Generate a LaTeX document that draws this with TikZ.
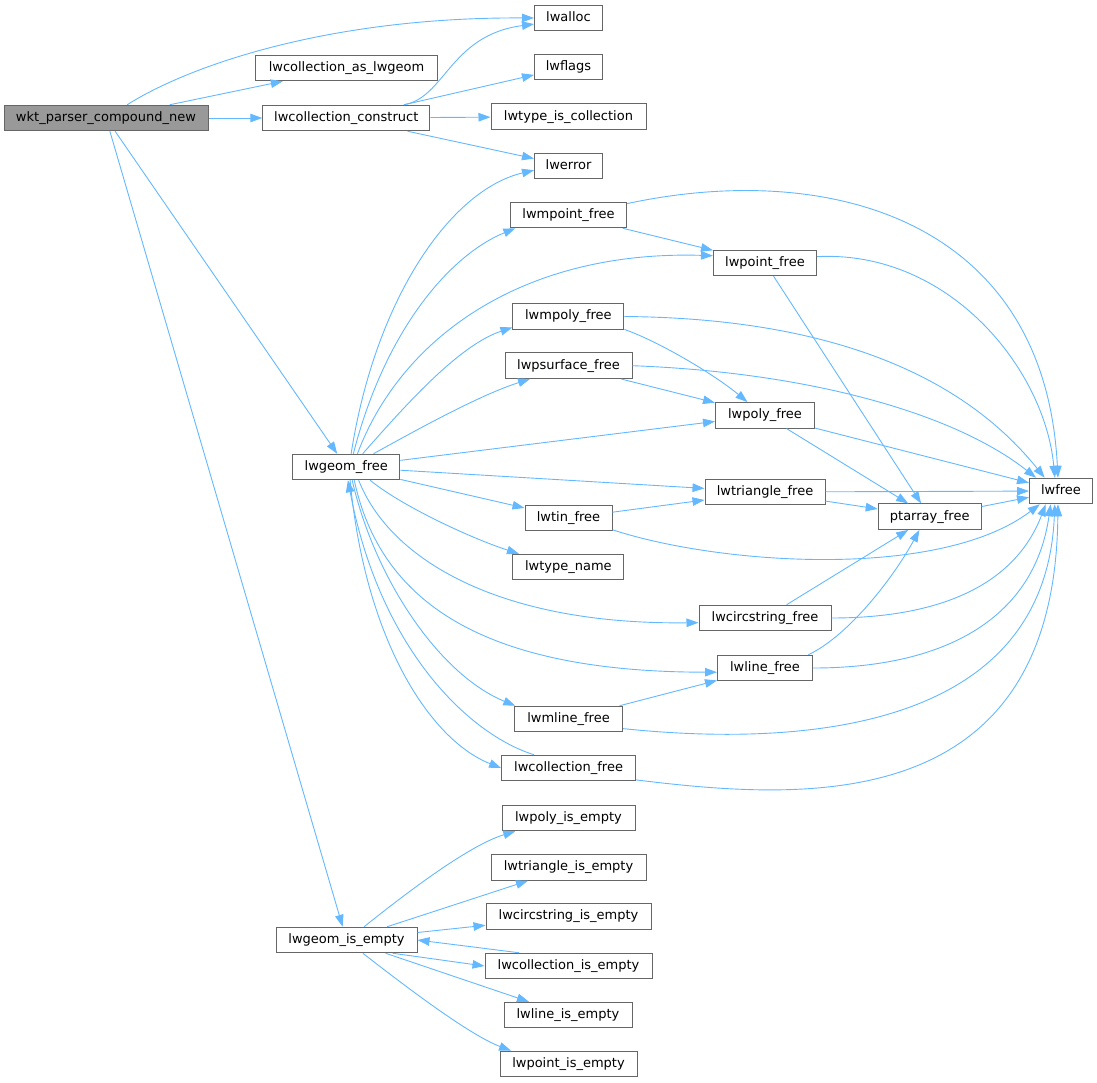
\documentclass[tikz,border=0pt]{standalone}
\usepackage{fontspec}
\setmainfont{DejaVu Sans}
\usetikzlibrary{arrows.meta}
\definecolor{edgeblue}{HTML}{63B8FF}
\definecolor{boxgray}{HTML}{666666}
\definecolor{rootgray}{HTML}{999999}
\tikzset{
  fn box/.style={draw=boxgray, line width=1pt, fill=white, minimum height=25.5pt, inner sep=0pt,
    text height=9.7pt, text depth=2.8pt, font=\fontsize{13}{15}\selectfont},
  root box/.style={fn box, fill=rootgray},
  call edge/.style={draw=edgeblue, line width=0.9pt, -{Triangle[length=12pt, width=8.5pt]}},
}

\begin{document}
\begin{tikzpicture}[x=1pt, y=-1pt]
  \useasboundingbox (0,0) rectangle (1097,1083);
  % caller
  \node[root box, minimum width=204pt] (wkt) at (106,118) {wkt\_parser\_compound\_new};
  % first column
  \node[fn box, minimum width=182pt] (asgeom) at (346.5,68) {lwcollection\_as\_lwgeom};
  \node[fn box, minimum width=167pt] (construct) at (346.3,118) {lwcollection\_construct};
  \node[fn box, minimum width=107pt] (geomfree) at (346.3,467) {lwgeom\_free};
  \node[fn box, minimum width=141pt] (geomempty) at (346.5,940) {lwgeom\_is\_empty};
  % second column
  \node[fn box, minimum width=68pt] (alloc) at (568.5,18) {lwalloc};
  \node[fn box, minimum width=68pt] (flags) at (568.5,67) {lwflags};
  \node[fn box, minimum width=155pt] (typecoll) at (568.5,116.7) {lwtype\_is\_collection};
  \node[fn box, minimum width=68pt] (error) at (568.5,166) {lwerror};
  \node[fn box, minimum width=116pt] (mpoint) at (568.5,215) {lwmpoint\_free};
  \node[fn box, minimum width=111pt] (mpoly) at (568.4,316.5) {lwmpoly\_free};
  \node[fn box, minimum width=127pt] (psurf) at (568.5,365.7) {lwpsurface\_free};
  \node[fn box, minimum width=87pt] (tin) at (568.5,518) {lwtin\_free};
  \node[fn box, minimum width=111pt] (typename) at (568.4,567) {lwtype\_name};
  \node[fn box, minimum width=108pt] (mline) at (568.5,719) {lwmline\_free};
  \node[fn box, minimum width=134pt] (collfree) at (568.6,768) {lwcollection\_free};
  \node[fn box, minimum width=133pt] (polyempty) at (568.5,818) {lwpoly\_is\_empty};
  \node[fn box, minimum width=155pt] (triempty) at (568.5,867.5) {lwtriangle\_is\_empty};
  \node[fn box, minimum width=165pt] (circempty) at (568.5,916.5) {lwcircstring\_is\_empty};
  \node[fn box, minimum width=167pt] (collempty) at (568.5,966) {lwcollection\_is\_empty};
  \node[fn box, minimum width=128pt] (lineempty) at (568,1015) {lwline\_is\_empty};
  \node[fn box, minimum width=137pt] (pointempty) at (568.5,1064) {lwpoint\_is\_empty};
  % third column
  \node[fn box, minimum width=103pt] (point) at (765,263) {lwpoint\_free};
  \node[fn box, minimum width=99pt] (poly) at (765,415.3) {lwpoly\_free};
  \node[fn box, minimum width=120pt] (triangle) at (765,492) {lwtriangle\_free};
  \node[fn box, minimum width=132pt] (circ) at (765,618) {lwcircstring\_free};
  \node[fn box, minimum width=95pt] (line) at (765,668) {lwline\_free};
  \node[fn box, minimum width=103pt] (ptarray) at (929.7,516.7) {ptarray\_free};
  \node[fn box, minimum width=63pt] (free) at (1061,491) {lwfree};

  % calls from the caller
  \draw[call edge] (wkt.32) .. controls (190,65) and (330,17) .. (alloc.west);
  \draw[call edge] (wkt) -- (asgeom);
  \draw[call edge] (wkt) -- (construct);
  \draw[call edge] (wkt) -- (geomfree);
  \draw[call edge] (wkt) -- (geomempty);
  % lwcollection_construct
  \draw[call edge] (construct.13) .. controls (445,98) and (450,35) .. (alloc.190);
  \draw[call edge] (construct) -- (flags);
  \draw[call edge] (construct) -- (typecoll);
  \draw[call edge] (construct) -- (error);
  % lwgeom_free
  \draw[call edge] (geomfree.70) .. controls (375,300) and (450,190) .. (error.187);
  \draw[call edge] (geomfree.62) .. controls (385,330) and (450,255) .. (mpoint.194);
  \draw[call edge] (geomfree.50) .. controls (400,340) and (520,250) .. (point.172);
  \draw[call edge] (geomfree.39) .. controls (410,400) and (460,345) .. (mpoly.191);
  \draw[call edge] (geomfree.26) .. controls (420,428) and (480,395) .. (psurf.199);
  \draw[call edge] (geomfree) -- (poly);
  \draw[call edge] (geomfree) -- (triangle);
  \draw[call edge] (geomfree) -- (tin);
  \draw[call edge] (geomfree.-29) .. controls (400,505) and (470,538) .. (typename.165);
  \draw[call edge] (geomfree.-47) .. controls (390,560) and (500,625) .. (circ.184);
  \draw[call edge] (geomfree.-59) .. controls (380,600) and (480,672) .. (line.185);
  \draw[call edge] (geomfree.-66) .. controls (375,580) and (440,675) .. (mline.166);
  \draw[call edge] (geomfree.-74) .. controls (365,640) and (430,740) .. (collfree.west);
  \draw[call edge] (collfree.159) .. controls (470,735) and (380,650) .. (geomfree.-83);
  % the free functions
  \draw[call edge] (mpoint.11) .. controls (830,160) and (1045,220) .. (free.103);
  \draw[call edge] (mpoint) -- (point);
  \draw[call edge] (point.7) .. controls (950,250) and (1045,370) .. (free.115);
  \draw[call edge] (point) -- (ptarray);
  \draw[call edge] (mpoly.east) .. controls (800,318) and (950,360) .. (free.141);
  \draw[call edge] (mpoly.-13) .. controls (660,342) and (715,375) .. (poly.143);
  \draw[call edge] (psurf.east) .. controls (800,372) and (950,410) .. (free.152);
  \draw[call edge] (psurf) -- (poly);
  \draw[call edge] (poly) -- (free);
  \draw[call edge] (poly) -- (ptarray);
  \draw[call edge] (triangle) -- (free);
  \draw[call edge] (triangle) -- (ptarray);
  \draw[call edge] (ptarray) -- (free);
  \draw[call edge] (tin) -- (triangle);
  \draw[call edge] (tin.-15) .. controls (720,565) and (940,580) .. (free.212);
  \draw[call edge] (circ) -- (ptarray);
  \draw[call edge] (circ.east) .. controls (940,618) and (1015,585) .. (free.221);
  \draw[call edge] (line.17) .. controls (850,635) and (895,575) .. (ptarray.232);
  \draw[call edge] (line.east) .. controls (950,668) and (1035,615) .. (free.232);
  \draw[call edge] (mline) -- (line);
  \draw[call edge] (mline.-10) .. controls (780,745) and (1045,740) .. (free.245);
  \draw[call edge] (collfree.-10) .. controls (800,800) and (1055,820) .. (free.257);
  % lwgeom_is_empty
  \draw[call edge] (geomempty.37) .. controls (410,890) and (470,845) .. (polyempty.194);
  \draw[call edge] (geomempty) -- (triempty);
  \draw[call edge] (geomempty) -- (circempty);
  \draw[call edge] (collempty.165) -- (geomempty.east);
  \draw[call edge] (geomempty.-16) -- (collempty.west);
  \draw[call edge] (geomempty) -- (lineempty);
  \draw[call edge] (geomempty.-39) .. controls (410,990) and (470,1035) .. (pointempty.167);
\end{tikzpicture}
\end{document}
